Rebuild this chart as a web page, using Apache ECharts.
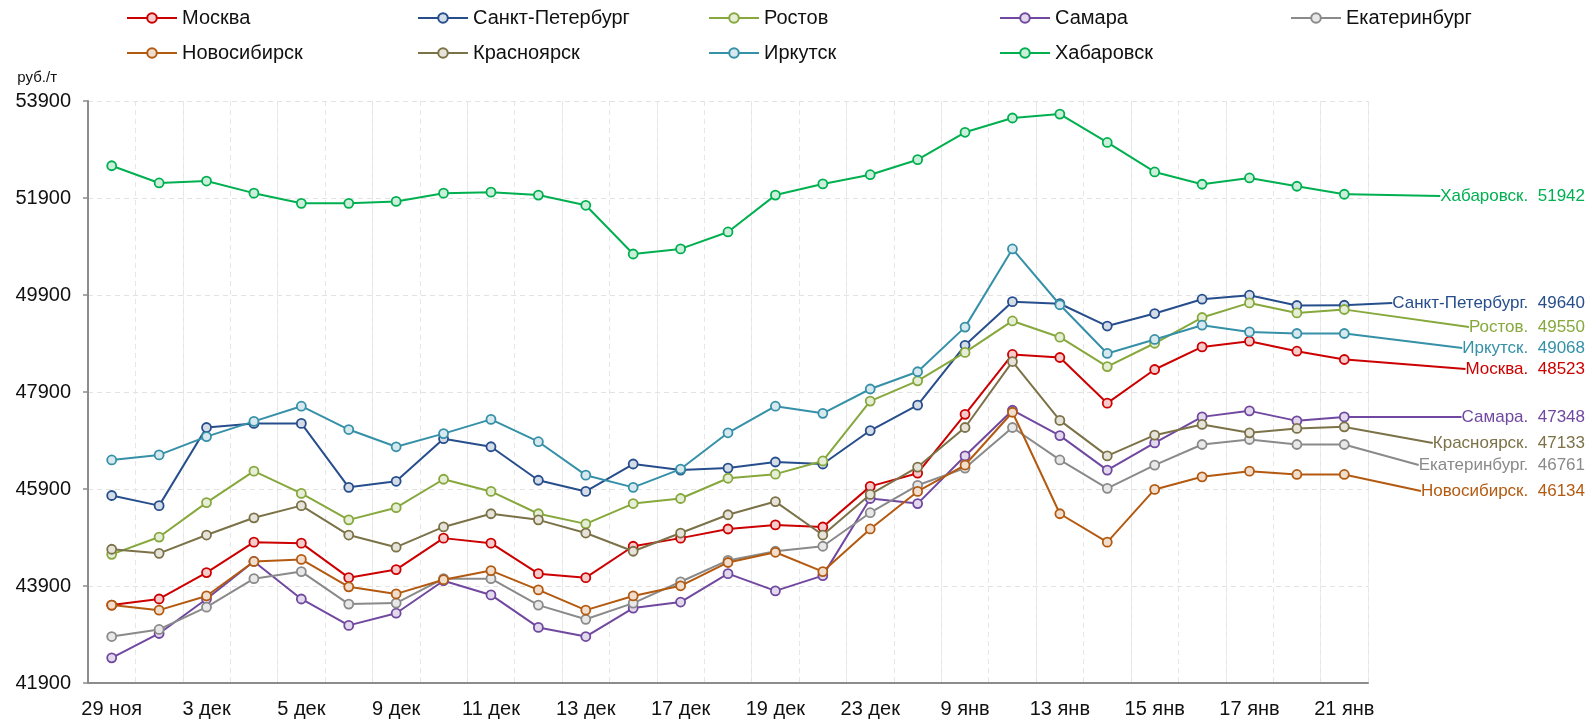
<!DOCTYPE html>
<html>
<head>
<meta charset="utf-8">
<script src="https://cdn.jsdelivr.net/npm/echarts@6/dist/echarts.min.js"></script>
<style>
  html, body { margin: 0; padding: 0; background: #fff; }
  #chart { width: 1591px; height: 723px; }
</style>
</head>
<body>
<div id="chart"></div>
<script>
// даты (подписи показаны через одну)
const dates = ['29 ноя', '2 дек', '3 дек', '4 дек', '5 дек', '6 дек', '9 дек', '10 дек', '11 дек',
  '12 дек', '13 дек', '16 дек', '17 дек', '18 дек', '19 дек', '20 дек', '23 дек', '24 дек',
  '9 янв', '10 янв', '13 янв', '14 янв', '15 янв', '16 янв', '17 янв', '20 янв', '21 янв']

const cities = ['Москва', 'Санкт-Петербург', 'Ростов', 'Самара', 'Екатеринбург',
  'Новосибирск', 'Красноярск', 'Иркутск', 'Хабаровск']

const moscow = [43507, 43632, 44176, 44804, 44783, 44072, 44239, 44887, 44783, 44155, 44072, 44720, 44887, 45075,
  45159, 45117, 45954, 46226, 47440, 48674, 48611, 47670, 48364, 48830, 48947, 48741, 48570]
const spb = [45766, 45557, 47168, 47252, 47252, 45934, 46059, 46938, 46771, 46080, 45850, 46415, 46290, 46331,
  46457, 46415, 47105, 47628, 48863, 49762, 49720, 49260, 49518, 49813, 49896, 49683, 49689]
const rostov = [44553, 44909, 45620, 46268, 45808, 45264, 45515, 46101, 45850, 45390, 45181, 45600, 45704, 46122,
  46206, 46478, 47712, 48130, 48716, 49365, 49030, 48424, 48905, 49436, 49737, 49531, 49601]
const samara = [42419, 42921, 43632, 44406, 43632, 43088, 43339, 44009, 43716, 43046, 42858, 43444, 43569, 44155,
  43799, 44114, 45704, 45599, 46582, 47524, 47001, 46290, 46851, 47387, 47511, 47305, 47387]
const ekb = [42858, 43004, 43464, 44051, 44197, 43527, 43548, 44051, 44051, 43506, 43213, 43548, 43987, 44427,
  44616, 44720, 45411, 45976, 46331, 47168, 46499, 45913, 46392, 46818, 46921, 46818, 46818]
const nsk = [43507, 43402, 43695, 44406, 44448, 43883, 43737, 44030, 44218, 43820, 43402, 43695, 43904, 44385,
  44595, 44197, 45076, 45850, 46394, 47482, 45390, 44804, 45891, 46151, 46268, 46200, 46200]
const krsk = [44658, 44574, 44951, 45306, 45557, 44951, 44700, 45118, 45390, 45264, 44992, 44616, 44992, 45369,
  45641, 44951, 45788, 46352, 47168, 48528, 47314, 46582, 47010, 47231, 47058, 47148, 47181]
const irk = [46499, 46603, 46980, 47294, 47607, 47126, 46770, 47042, 47335, 46875, 46185, 45934, 46311, 47059,
  47607, 47460, 47962, 48318, 49238, 50849, 49699, 48695, 48983, 49277, 49139, 49106, 49106]
const khab = [52565, 52210, 52250, 52000, 51790, 51790, 51830, 52000, 52020, 51960, 51750, 50745, 50850, 51200,
  51960, 52190, 52380, 52690, 53255, 53550, 53630, 53045, 52437, 52183, 52313, 52142, 51977]

// текущие цены (подписи справа)
const lastPrices = [48523, 49640, 49550, 47348, 46761, 46134, 47133, 49068, 51942]

const yTicks = [41900, 43900, 45900, 47900, 49900, 51900, 53900]

const seriesValues = [moscow, spb, rostov, samara, ekb, nsk, krsk, irk, khab]
const colors = ['#cc0000', '#274e8c', '#86a83c', '#7048a0', '#8a8a8a', '#b35a10', '#7c7248', '#3590a8', '#00b050']
// положение подписей справа по вертикали, px
const endLabelY = [369, 303, 327, 417, 465, 491, 443, 348, 196]

const tint = (hex, k) => {
  const n = parseInt(hex.slice(1), 16)
  const mix = c => Math.round(c + (255 - c) * k)
  return `rgb(${mix(n >> 16)}, ${mix((n >> 8) & 255)}, ${mix(n & 255)})`
}

const font = 'Liberation Sans, Arial, sans-serif'
const chart = echarts.init(document.getElementById('chart'))

const option = {
  animation: false,
  legend: cities.map((name, i) => ({
    data: [name],
    left: 126 + 291 * (i % 5),
    top: 8 + 35 * Math.floor(i / 5),
    padding: 0,
    itemWidth: 50,
    itemHeight: 12,
    textStyle: { fontFamily: font, fontSize: 20, color: '#111' }
  })),
  grid: { left: 88, right: 223, top: 101, bottom: 40 },
  xAxis: [
    {
      type: 'category',
      data: dates,
      boundaryGap: true,
      axisLine: { lineStyle: { color: '#8c8c8c', width: 2 } },
      axisTick: { show: false, interval: 1 },
      axisLabel: { interval: 1, margin: 16, fontFamily: font, fontSize: 20, color: '#111' },
      splitLine: { show: true, interval: 1, lineStyle: { color: '#ececec', width: 1 } }
    },
    {
      type: 'category',
      data: dates,
      position: 'top',
      boundaryGap: true,
      axisLine: { show: false },
      axisTick: { show: false },
      axisLabel: { show: false },
      splitLine: { show: true, interval: 0, lineStyle: { color: '#e6e6e6', type: [5, 4], width: 1 } }
    }
  ],
  yAxis: {
    type: 'value',
    min: 41900,
    max: 53900,
    name: 'руб./т',
    nameLocation: 'end',
    nameGap: 16,
    nameTextStyle: { fontFamily: font, fontSize: 15, color: '#111', align: 'right', verticalAlign: 'bottom', padding: [0, 31, 0, 0] },
    axisLine: { show: true, lineStyle: { color: '#8c8c8c', width: 2 } },
    axisTick: { show: true, length: 5, customValues: yTicks, lineStyle: { color: '#8c8c8c', width: 1.5 } },
    axisLabel: {
      customValues: yTicks,
      formatter: v => String(v),
      margin: 17,
      fontFamily: font,
      fontSize: 20,
      color: '#111'
    },
    splitLine: { show: true, lineStyle: { color: '#e2e2e2', type: [5, 4], width: 1 } }
  },
  series: cities.map((name, i) => {
    const vals = seriesValues[i]
    return {
      name,
      type: 'line',
      data: vals.map((v, j) => j < vals.length - 1 ? v : {
        value: v,
        label: {
          show: true,
          formatter: `${name}.  ${lastPrices[i]}`,
          fontFamily: font,
          fontSize: 17,
          color: colors[i],
          padding: [0, 0, 0, 10]
        },
        labelLine: { show: true, lineStyle: { color: colors[i], width: 2 } }
      }),
      color: colors[i],
      symbol: 'circle',
      symbolSize: 9,
      showAllSymbol: true,
      lineStyle: { width: 2, color: colors[i] },
      itemStyle: { color: tint(colors[i], 0.8), borderColor: colors[i], borderWidth: 1.8 },
      labelLayout: () => ({
        x: chart.getWidth() - 6,
        y: endLabelY[i],
        align: 'right',
        verticalAlign: 'middle'
      }),
      z: 2 + i
    }
  })
}

chart.setOption(option)
window.addEventListener('resize', () => chart.resize())
</script>
</body>
</html>
